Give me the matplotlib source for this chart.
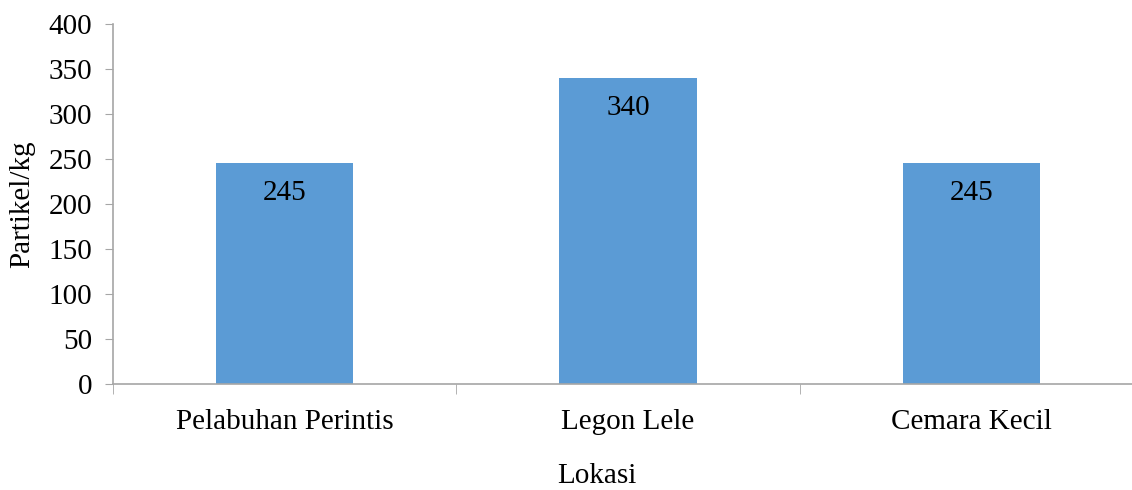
import matplotlib.pyplot as plt
from matplotlib.ticker import FixedLocator

lokasi = ["Pelabuhan Perintis", "Legon Lele", "Cemara Kecil"]
partikel = [245, 340, 245]

plt.rcParams['font.family'] = ['Liberation Serif', 'DejaVu Serif']

fig = plt.figure(figsize=(11.32, 4.90), dpi=100)
ax = fig.add_axes([113 / 1132, 1 - 384 / 490, 1030 / 1132, 360 / 490])

x = list(range(len(lokasi)))
bars = ax.bar(x, partikel, width=0.4, color='#5B9BD5', zorder=2)

for xi, v in zip(x, partikel):
    ax.annotate(str(v), (xi, v), xytext=(0, -30), textcoords='offset pixels',
                ha='center', va='center', fontsize=21, color='black')

ax.set_xlim(-0.5, len(lokasi) - 0.5)
ax.set_ylim(0, 400)
ax.set_yticks(range(0, 401, 50))
ax.tick_params(axis='y', labelsize=21, length=6, color='#A6A6A6', pad=9)

ax.set_xticks(x)
ax.set_xticklabels(lokasi, fontsize=21)
ax.tick_params(axis='x', which='major', length=0, pad=18)
ax.xaxis.set_minor_locator(FixedLocator([-0.5, 0.5, 1.5, 2.5]))
ax.tick_params(axis='x', which='minor', length=7, color='#A6A6A6')

for s in ['top', 'right']:
    ax.spines[s].set_visible(False)
for s in ['left', 'bottom']:
    ax.spines[s].set_color('#A6A6A6')
    ax.spines[s].set_linewidth(1.2)

fig.text(22 / 1132, 1 - 204 / 490, 'Partikel/kg', rotation=90, ha='center', va='center', fontsize=21)
fig.text(597 / 1132, 1 - 476 / 490, 'Lokasi', ha='center', va='center', fontsize=21)

fig.savefig('out.png', dpi=100)
